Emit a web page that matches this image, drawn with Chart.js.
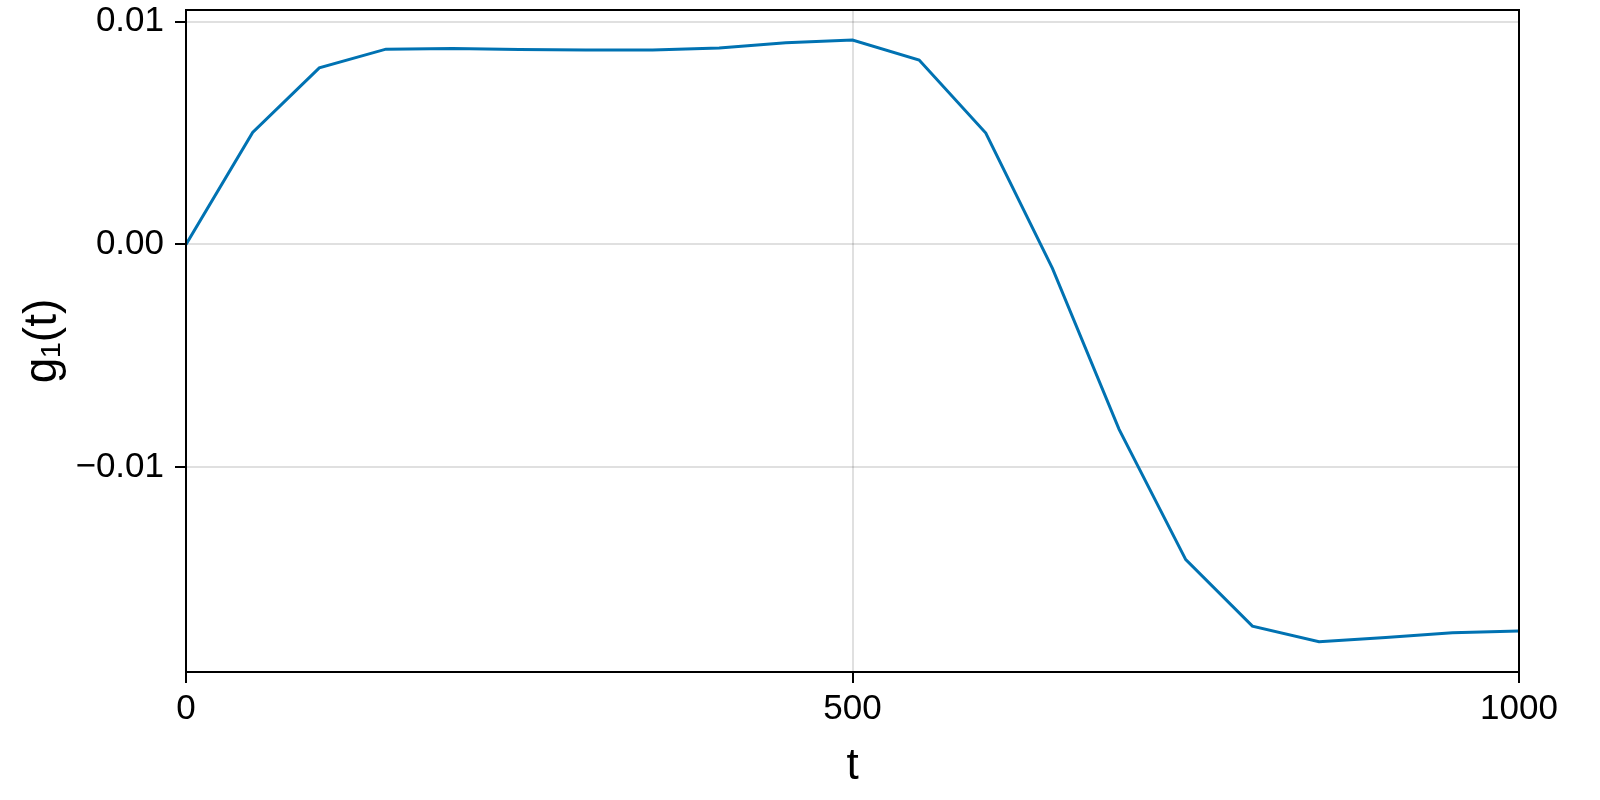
<!DOCTYPE html>
<html>
<head>
<meta charset="utf-8">
<script src="https://cdn.jsdelivr.net/npm/chart.js@4/dist/chart.umd.min.js"></script>
<style>
  html, body { margin: 0; padding: 0; background: #fff; }
  #wrap { width: 1600px; height: 800px; }
</style>
</head>
<body>
<div id="wrap"><canvas id="myChart"></canvas></div>
<script>
// time steps and the g1(t) values
const tValues = [0, 50, 100, 150, 200, 250, 300, 350, 400, 450, 500,
                 550, 600, 650, 700, 750, 800, 850, 900, 950, 1000];
const gValues = [0, 0.00503, 0.00793, 0.00877, 0.00880, 0.00876, 0.00873, 0.00873, 0.00882, 0.00906, 0.00918,
                 0.00828, 0.00500, -0.00108, -0.00831, -0.01416, -0.01715, -0.01785, -0.01766, -0.01745, -0.01737];

const xTicks = [0, 500, 1000];
const xTickLabels = ['0', '500', '1000'];
const yTicks = [-0.01, 0, 0.01];
const yTickLabels = ['\u22120.01', '0.00', '0.01'];

document.addEventListener('DOMContentLoaded', function() {
  const ctx = document.getElementById('myChart');

  // box around the plot area (top and right spines)
  const frame = {
    id: 'frame',
    afterDraw(chart) {
      const a = chart.chartArea;
      const c = chart.ctx;
      c.save();
      c.strokeStyle = '#000';
      c.lineWidth = 2;
      c.strokeRect(a.left, a.top, a.right - a.left, a.bottom - a.top);
      c.restore();
    }
  };

  new Chart(ctx, {
    type: 'line',
    data: {
      datasets: [{
        label: 'g1',
        data: tValues.map((t, i) => ({ x: t, y: gValues[i] })),
        borderColor: 'rgb(0,114,178)',
        borderWidth: 3,
        pointRadius: 0,
        tension: 0,
        fill: false
      }]
    },
    plugins: [frame],
    options: {
      responsive: true,
      maintainAspectRatio: false,
      animation: false,
      layout: { padding: { left: 0, right: 81, top: 10, bottom: 0 } },
      plugins: {
        legend: { display: false },
        tooltip: { enabled: false }
      },
      scales: {
        x: {
          type: 'linear',
          min: 0,
          max: 1000,
          afterBuildTicks: s => { s.ticks = xTicks.map(v => ({ value: v })); },
          afterFit: s => { s.height = 128; s.paddingLeft = 0; s.paddingRight = 0; },
          ticks: {
            color: '#000',
            font: { family: 'Liberation Sans', size: 35 },
            padding: 5,
            maxRotation: 0,
            callback: (v) => xTickLabels[xTicks.indexOf(v)]
          },
          grid: {
            color: 'rgba(0,0,0,0.12)',
            lineWidth: 2,
            tickColor: '#000',
            tickLength: 11,
            tickWidth: 2
          },
          border: { display: true, color: '#000', width: 2 },
          title: {
            display: true,
            text: 't',
            color: '#000',
            font: { family: 'Liberation Sans', size: 44 },
            padding: { top: 0, bottom: 7 }
          }
        },
        y: {
          type: 'linear',
          min: -0.01921,
          max: 0.01053,
          afterBuildTicks: s => { s.ticks = yTicks.map(v => ({ value: v })); },
          afterFit: s => { s.width = 186; s.paddingTop = 0; s.paddingBottom = 0; },
          ticks: {
            color: '#000',
            font: { family: 'Liberation Sans', size: 35 },
            padding: 11,
            callback: (v) => {
              const i = yTicks.findIndex(k => Math.abs(k - v) < 1e-9);
              return i >= 0 ? yTickLabels[i] : '';
            }
          },
          grid: {
            color: 'rgba(0,0,0,0.12)',
            lineWidth: 2,
            tickColor: '#000',
            tickLength: 11,
            tickWidth: 2
          },
          border: { display: true, color: '#000', width: 2 },
          title: {
            display: true,
            text: 'g\u2081(t)',
            color: '#000',
            font: { family: 'Liberation Sans', size: 46 },
            padding: { top: 16, bottom: 0 }
          }
        }
      }
    }
  });
});
</script>
</body>
</html>
